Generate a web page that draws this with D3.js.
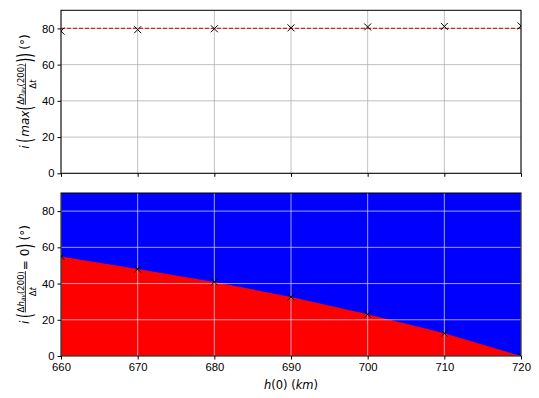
<!DOCTYPE html>
<html>
<head>
<meta charset="utf-8">
<script src="https://d3js.org/d3.v7.min.js"></script>
<style>
  body { margin: 0; background: #fff; }
  svg { font-family: "DejaVu Sans", sans-serif; }
  .tick text { font-size: 11.3px; fill: #000; }
</style>
</head>
<body>
<svg id="chart" width="539" height="398"></svg>
<script>
// data
const heights = [660, 670, 680, 690, 700, 710, 720];
const maxIncl = [78.5, 79.3, 79.8, 80.3, 80.8, 81.1, 81.4];
const meanIncl = 80;
const zeroIncl = [55, 48, 40.9, 32.6, 23, 12.5, 0];
const xTicks = [660, 670, 680, 690, 700, 710, 720];
const yTicks = [0, 20, 40, 60, 80];

const svg = d3.select("#chart");
const left = 61, right = 521;
const x = d3.scaleLinear().domain([660, 720]).range([left, right]);
const yTop = d3.scaleLinear().domain([0, 90]).range([173.3, 10.3]);
const yBot = d3.scaleLinear().domain([0, 90]).range([356, 193]);

function cross(g, px, py) {
  const s = 3.5;
  g.append("path")
    .attr("d", `M${px - s},${py - s}L${px + s},${py + s}M${px - s},${py + s}L${px + s},${py - s}`)
    .attr("stroke", "#000").attr("stroke-width", 1);
}

function grid(g, y, color) {
  g.append("g").selectAll("line").data(xTicks).join("line")
    .attr("x1", d => x(d)).attr("x2", d => x(d))
    .attr("y1", y.range()[0]).attr("y2", y.range()[1])
    .attr("stroke", color).attr("stroke-width", 0.8);
  g.append("g").selectAll("line").data(yTicks).join("line")
    .attr("x1", left).attr("x2", right)
    .attr("y1", d => y(d)).attr("y2", d => y(d))
    .attr("stroke", color).attr("stroke-width", 0.8);
}

function axes(g, y, showX) {
  const ax = g.append("g").attr("transform", `translate(0,${y.range()[0]})`)
    .call(d3.axisBottom(x).tickValues(xTicks).tickSize(3.5).tickPadding(3)
      .tickFormat(showX ? d3.format("d") : ""));
  const ay = g.append("g").attr("transform", `translate(${left},0)`)
    .call(d3.axisLeft(y).tickValues(yTicks).tickSize(3.5).tickPadding(3));
  [ax, ay].forEach(a => { a.select(".domain").remove(); a.selectAll("line").attr("stroke", "#000"); });
  g.append("rect").attr("x", left).attr("y", y.range()[1])
    .attr("width", right - left).attr("height", y.range()[0] - y.range()[1])
    .attr("fill", "none").attr("stroke", "#000").attr("stroke-width", 1);
}

// clip so edge markers are cut at the frame
svg.append("clipPath").attr("id", "cTop").append("rect")
  .attr("x", left).attr("y", 10.3).attr("width", right - left).attr("height", 163);
svg.append("clipPath").attr("id", "cBot").append("rect")
  .attr("x", left).attr("y", 193).attr("width", right - left).attr("height", 163);

// ---- top panel
const topPanel = svg.append("g");
grid(topPanel, yTop, "#b0b0b0");
const topData = topPanel.append("g").attr("clip-path", "url(#cTop)");
topData.append("line")
  .attr("x1", x(660)).attr("x2", x(720))
  .attr("y1", yTop(meanIncl)).attr("y2", yTop(meanIncl))
  .attr("stroke", "#cc2b2b").attr("stroke-width", 1.2).attr("stroke-dasharray", "4,2");
heights.forEach((h, i) => cross(topData, x(h), yTop(maxIncl[i])));
axes(topPanel, yTop, false);

// ---- bottom panel
const botPanel = svg.append("g");
const botData = botPanel.append("g").attr("clip-path", "url(#cBot)");
botData.append("rect").attr("x", left).attr("y", yBot(90))
  .attr("width", right - left).attr("height", yBot(0) - yBot(90)).attr("fill", "#0000ff");
botData.append("path")
  .datum(heights.map((h, i) => [h, zeroIncl[i]]))
  .attr("d", d3.area().x(d => x(d[0])).y0(yBot(0)).y1(d => yBot(d[1])))
  .attr("fill", "#ff0000");
grid(botData, yBot, "#c8c8d8");
heights.forEach((h, i) => cross(botData, x(h), yBot(zeroIncl[i])));
axes(botPanel, yBot, true);

// x label
const xl = svg.append("text").attr("x", (left + right) / 2).attr("y", 389)
  .attr("text-anchor", "middle").attr("font-size", 11.5);
xl.append("tspan").attr("font-style", "italic").text("h");
xl.append("tspan").text("(0) (");
xl.append("tspan").attr("font-style", "italic").text("km");
xl.append("tspan").text(")");

// rotated math y labels built from pieces
function mathLabel(cx, cy, pre, post) {
  const g = svg.append("g");
  const inner = g.append("g");
  let cur = 0;
  function txt(s, opts = {}) {
    const t = inner.append("text").attr("x", cur).attr("y", 0)
      .attr("font-size", opts.size || 12)
      .attr("font-style", opts.italic ? "italic" : null)
      .text(s);
    if (opts.scaleY) t.attr("transform", `scale(1,${opts.scaleY})`).attr("y", opts.shift || 0);
    cur += t.node().getComputedTextLength() + (opts.gap || 0);
    return t;
  }
  pre.forEach(p => txt(p.s, p));
  // fraction
  const fx = cur + 1;
  const num = inner.append("text").attr("x", fx).attr("y", -5.5).attr("font-size", 8.5);
  num.append("tspan").text("Δ");
  num.append("tspan").attr("font-style", "italic").text("h");
  num.append("tspan").attr("font-style", "italic").attr("font-size", 6).attr("dy", 1.5).text("av");
  num.append("tspan").attr("dy", -1.5).text("(200)");
  const nw = num.node().getComputedTextLength();
  const den = inner.append("text").attr("y", 7).attr("font-size", 8.5).attr("text-anchor", "middle")
    .attr("x", fx + nw / 2);
  den.append("tspan").text("Δ");
  den.append("tspan").attr("font-style", "italic").text("t");
  inner.append("line").attr("x1", fx).attr("x2", fx + nw).attr("y1", -3.6).attr("y2", -3.6)
    .attr("stroke", "#000").attr("stroke-width", 0.8);
  cur = fx + nw + 1;
  post.forEach(p => txt(p.s, p));
  inner.attr("transform", `translate(${-cur / 2},4)`);
  g.attr("transform", `translate(${cx},${cy}) rotate(-90)`);
}

const bigParen = { size: 12, scaleY: 1.7, shift: 1.8 };
mathLabel(25, 91.5,
  [{ s: "i", italic: true, gap: 2.5 }, Object.assign({ s: "(" }, bigParen, { gap: 1.5 }),
   { s: "max", italic: true }, Object.assign({ s: "(" }, bigParen)],
  [Object.assign({ s: ")" }, bigParen), Object.assign({ s: ")" }, bigParen, { gap: 3.5 }),
   { s: "(°)" }]);
mathLabel(25, 274.5,
  [{ s: "i", italic: true, gap: 2.5 }, Object.assign({ s: "(" }, bigParen)],
  [{ s: " = 0" }, Object.assign({ s: ")" }, bigParen, { gap: 3.5 }), { s: "(°)" }]);
</script>
</body>
</html>
